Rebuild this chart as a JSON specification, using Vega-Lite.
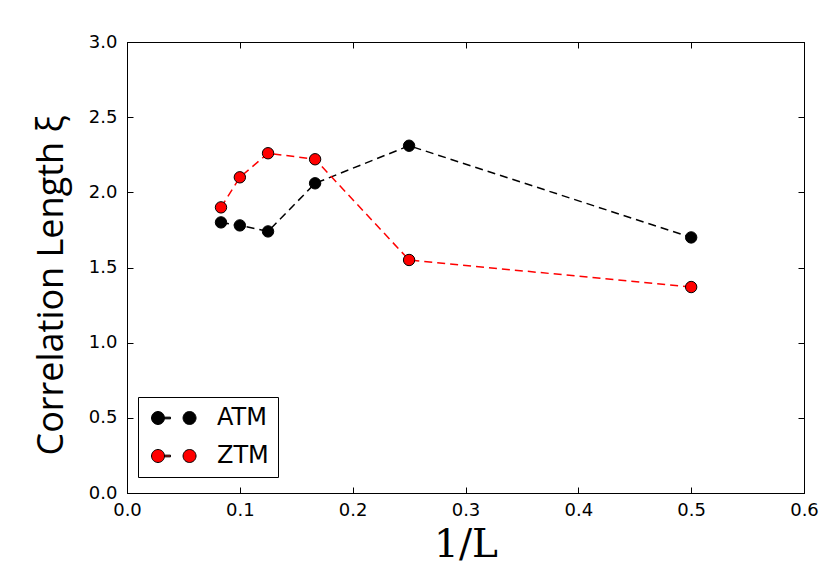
{
  "$schema": "https://vega.github.io/schema/vega-lite/v6.json",
  "autosize": "none",
  "width": 677,
  "height": 451,
  "padding": {"left": 127, "top": 42, "right": 26, "bottom": 90},
  "background": "white",
  "config": {
    "view": {"stroke": "black", "strokeWidth": 1},
    "axis": {
      "domainColor": "black",
      "tickColor": "black",
      "ticks": true,
      "tickWidth": 1,
      "labelFont": "DejaVu Sans",
      "labelFontSize": 18,
      "labelColor": "black",
      "labelFlush": false,
      "labelOverlap": false,
      "grid": false
    }
  },
  "data": {
    "values": [
      {"invL": 0.0833, "xi": 1.80, "model": "ATM"},
      {"invL": 0.1, "xi": 1.78, "model": "ATM"},
      {"invL": 0.125, "xi": 1.74, "model": "ATM"},
      {"invL": 0.1667, "xi": 2.06, "model": "ATM"},
      {"invL": 0.25, "xi": 2.31, "model": "ATM"},
      {"invL": 0.5, "xi": 1.70, "model": "ATM"},
      {"invL": 0.0833, "xi": 1.90, "model": "ZTM"},
      {"invL": 0.1, "xi": 2.10, "model": "ZTM"},
      {"invL": 0.125, "xi": 2.26, "model": "ZTM"},
      {"invL": 0.1667, "xi": 2.22, "model": "ZTM"},
      {"invL": 0.25, "xi": 1.55, "model": "ZTM"},
      {"invL": 0.5, "xi": 1.37, "model": "ZTM"}
    ]
  },
  "resolve": {"axis": {"x": "independent", "y": "independent"}},
  "layer": [
    {
      "transform": [{"filter": "datum.model === 'ATM'"}],
      "mark": {"type": "line", "strokeDash": [8, 5], "strokeWidth": 1.5, "color": "black"},
      "encoding": {
        "x": {"field": "invL", "type": "quantitative", "scale": {"domain": [0, 0.6], "nice": false},
          "axis": {"orient": "bottom", "values": [0, 0.1, 0.2, 0.3, 0.4, 0.5, 0.6], "format": ".1f", "tickSize": -6, "labelPadding": 14, "title": "1/L", "titleFont": "DejaVu Serif", "titleFontSize": 39, "titleFontWeight": "normal", "titlePadding": 6, "titleColor": "black"}},
        "y": {"field": "xi", "type": "quantitative", "scale": {"domain": [0, 3], "nice": false},
          "axis": {"orient": "left", "values": [0, 0.5, 1, 1.5, 2, 2.5, 3], "format": ".1f", "tickSize": -6, "labelPadding": 16, "title": "Correlation Length ξ", "titleFont": "Open Sans", "titleFontSize": 36, "titleFontWeight": "normal", "titlePadding": 18, "titleY": 243, "titleColor": "black"}}
      }
    },
    {
      "transform": [{"filter": "datum.model === 'ZTM'"}],
      "mark": {"type": "line", "strokeDash": [8, 5], "strokeWidth": 1.5, "color": "red"},
      "encoding": {
        "x": {"field": "invL", "type": "quantitative", "axis": null},
        "y": {"field": "xi", "type": "quantitative", "axis": null}
      }
    },
    {
      "mark": {"type": "point", "shape": "circle", "filled": true, "size": 130, "stroke": "black", "strokeWidth": 1, "opacity": 1},
      "encoding": {
        "x": {"field": "invL", "type": "quantitative", "axis": {"orient": "top", "values": [0, 0.1, 0.2, 0.3, 0.4, 0.5, 0.6], "labels": false, "tickSize": -6, "title": null}},
        "y": {"field": "xi", "type": "quantitative", "axis": {"orient": "right", "values": [0, 0.5, 1, 1.5, 2, 2.5, 3], "labels": false, "tickSize": -6, "title": null}},
        "fill": {"field": "model", "type": "nominal", "scale": {"domain": ["ATM", "ZTM"], "range": ["black", "red"]},
          "legend": {
            "title": null,
            "orient": "none",
            "legendX": 11,
            "legendY": 355,
            "strokeColor": "black",
            "fillColor": "white",
            "padding": 9,
            "symbolType": "M -1.15 0 A 1 1 0 1 0 0.85 0 A 1 1 0 1 0 -1.15 0 Z M 0.85 -0.13 L 1.77 -0.13 L 1.77 0.13 L 0.85 0.13 Z M 3.7 0 A 1 1 0 1 0 5.7 0 A 1 1 0 1 0 3.7 0 Z",
            "symbolSize": 169,
            "symbolStrokeColor": "black",
            "symbolStrokeWidth": 1,
            "symbolOpacity": 1,
            "labelFont": "DejaVu Sans",
            "labelFontSize": 24,
            "labelColor": "black",
            "labelOffset": 46,
            "rowPadding": 14
          }}
      }
    }
  ]
}
